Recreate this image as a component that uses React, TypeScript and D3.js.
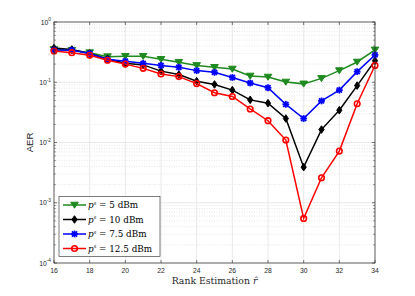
import * as d3 from "d3";

const ranks = [16, 17, 18, 19, 20, 21, 22, 23, 24, 25, 26, 27, 28, 29, 30, 31, 32, 33, 34];
const aer5 = [0.35, 0.34, 0.31, 0.266, 0.27, 0.27, 0.24, 0.215, 0.19, 0.177, 0.166, 0.127, 0.122, 0.101, 0.094, 0.116, 0.156, 0.217, 0.344];
const aer10 = [0.37, 0.35, 0.3, 0.244, 0.206, 0.194, 0.153, 0.134, 0.104, 0.092, 0.074, 0.051, 0.045, 0.025, 0.0039, 0.0164, 0.0343, 0.088, 0.228];
const aer75 = [0.344, 0.34, 0.3, 0.24, 0.223, 0.206, 0.19, 0.177, 0.156, 0.146, 0.12, 0.097, 0.081, 0.043, 0.025, 0.049, 0.074, 0.15, 0.284];
const aer125 = [0.33, 0.31, 0.28, 0.232, 0.2, 0.17, 0.137, 0.124, 0.095, 0.067, 0.058, 0.036, 0.023, 0.011, 0.00055, 0.0026, 0.0072, 0.044, 0.19];
const xTicks = [16, 18, 20, 22, 24, 26, 28, 30, 32, 34];
const yExps = [0, -1, -2, -3, -4];

type Series = { power: string; values: number[]; color: string; marker: string };
const series: Series[] = [
  { power: "5", values: aer5, color: "#1f8a1f", marker: "tri" },
  { power: "10", values: aer10, color: "#000000", marker: "diamond" },
  { power: "7.5", values: aer75, color: "#0000ff", marker: "star" },
  { power: "12.5", values: aer125, color: "#ff0000", marker: "circle" },
];

const W = 415;
const H = 296;
const m = { left: 54, right: 40, top: 22, bottom: 33 };

function Marker({ kind, x, y, color }: { kind: string; x: number; y: number; color: string }) {
  if (kind === "tri") {
    return <path d={`M${x - 3.8},${y - 2.8}L${x + 3.8},${y - 2.8}L${x},${y + 3.2}Z`} fill={color} stroke={color} strokeWidth={1} />;
  }
  if (kind === "diamond") {
    return <path d={`M${x},${y - 3.8}L${x + 2.6},${y}L${x},${y + 3.8}L${x - 2.6},${y}Z`} fill={color} stroke={color} strokeWidth={1} />;
  }
  if (kind === "star") {
    const r = 3.4;
    return (
      <g stroke={color} strokeWidth={1.8}>
        <line x1={x - r} y1={y} x2={x + r} y2={y} />
        <line x1={x} y1={y - r} x2={x} y2={y + r} />
        <line x1={x - r * 0.75} y1={y - r * 0.75} x2={x + r * 0.75} y2={y + r * 0.75} />
        <line x1={x - r * 0.75} y1={y + r * 0.75} x2={x + r * 0.75} y2={y - r * 0.75} />
      </g>
    );
  }
  return <circle cx={x} cy={y} r={2.8} fill="none" stroke={color} strokeWidth={1.6} />;
}

export default function App() {
  const x = d3.scaleLinear().domain([16, 34]).range([m.left, W - m.right]);
  const y = d3.scaleLog().domain([1e-4, 1]).range([H - m.bottom, m.top]);
  const line = d3
    .line<number>()
    .x((_, i) => x(ranks[i]))
    .y((d) => y(d));

  const minor: number[] = [];
  for (let e = -4; e < 0; e++) for (let k = 2; k <= 9; k++) minor.push(k * Math.pow(10, e));

  const [x0, x1] = x.range();
  const [y0, y1] = y.range();
  const tickFont = "Liberation Sans, Arial, sans-serif";
  const serif = "DejaVu Serif, serif";

  const legX = 59;
  const legY = 196.5;
  const legRows = [205, 219.5, 234, 248.5];

  return (
    <svg width={W} height={H} style={{ position: "absolute", left: 0, top: 0 }}>
      <rect width={W} height={H} fill="#fff" />
      <rect x={x0} y={y1} width={x1 - x0} height={y0 - y1} fill="#fff" />
      {minor.map((v) => (
        <line key={"m" + v} x1={x0} x2={x1} y1={y(v)} y2={y(v)} stroke="#d9d9d9" strokeWidth={0.6} strokeDasharray="1,1.5" />
      ))}
      {yExps.map((e) => (
        <line key={"g" + e} x1={x0} x2={x1} y1={y(Math.pow(10, e))} y2={y(Math.pow(10, e))} stroke="#e3e3e3" strokeWidth={0.8} />
      ))}
      {xTicks.map((t) => (
        <line key={"gx" + t} x1={x(t)} x2={x(t)} y1={y0} y2={y1} stroke="#e3e3e3" strokeWidth={0.8} />
      ))}
      {series.map((s) => (
        <g key={s.power}>
          <path d={line(s.values) ?? ""} fill="none" stroke={s.color} strokeWidth={1.5} />
          {s.values.map((v, i) => (
            <Marker key={i} kind={s.marker} x={x(ranks[i])} y={y(v)} color={s.color} />
          ))}
        </g>
      ))}
      <rect x={x0} y={y1} width={x1 - x0} height={y0 - y1} fill="none" stroke="#262626" strokeWidth={0.7} />
      {xTicks.map((t) => (
        <g key={"tx" + t}>
          <line x1={x(t)} x2={x(t)} y1={y0} y2={y0 - 3} stroke="#262626" strokeWidth={0.6} />
          <line x1={x(t)} x2={x(t)} y1={y1} y2={y1 + 3} stroke="#262626" strokeWidth={0.6} />
          <text x={x(t)} y={y0 + 10} fontSize={6.8} fontFamily={tickFont} fill="#262626" textAnchor="middle">
            {t}
          </text>
        </g>
      ))}
      {minor.map((v) => (
        <g key={"mt" + v}>
          <line x1={x0} x2={x0 + 1.8} y1={y(v)} y2={y(v)} stroke="#262626" strokeWidth={0.5} />
          <line x1={x1} x2={x1 - 1.8} y1={y(v)} y2={y(v)} stroke="#262626" strokeWidth={0.5} />
        </g>
      ))}
      {yExps.map((e) => (
        <g key={"ty" + e}>
          <line x1={x0} x2={x0 + 3} y1={y(Math.pow(10, e))} y2={y(Math.pow(10, e))} stroke="#262626" strokeWidth={0.6} />
          <line x1={x1} x2={x1 - 3} y1={y(Math.pow(10, e))} y2={y(Math.pow(10, e))} stroke="#262626" strokeWidth={0.6} />
          <text x={x0 - 3} y={y(Math.pow(10, e)) + 2.5} fontSize={6.8} fontFamily={tickFont} fill="#262626" textAnchor="end">
            10<tspan fontSize={4.8} dy={-3.2}>{e}</tspan>
          </text>
        </g>
      ))}
      <text
        transform={`translate(33,${(y0 + y1) / 2}) rotate(-90)`}
        fontSize={9.5}
        fontFamily={tickFont}
        fill="#262626"
        textAnchor="middle"
      >
        AER
      </text>
      <text x={(x0 + x1) / 2} y={284} fontSize={9.3} fontFamily={serif} fill="#262626" textAnchor="middle">
        Rank Estimation <tspan fontStyle="italic">r̂</tspan>
      </text>
      <rect x={legX} y={legY} width={101} height={60} fill="#fff" stroke="#262626" strokeWidth={0.6} />
      {series.map((s, i) => (
        <g key={"lg" + s.power}>
          <line x1={63} x2={86} y1={legRows[i]} y2={legRows[i]} stroke={s.color} strokeWidth={1.5} />
          <Marker kind={s.marker} x={74.5} y={legRows[i]} color={s.color} />
          <text x={88} y={legRows[i] + 3.3} fontSize={8.8} fontFamily={serif} fill="#000">
            <tspan fontStyle="italic">p</tspan>
            <tspan fontSize={5.2} dy={-3.5}>s</tspan>
            <tspan dy={3.5}>{` = ${s.power} dBm`}</tspan>
          </text>
        </g>
      ))}
    </svg>
  );
}
